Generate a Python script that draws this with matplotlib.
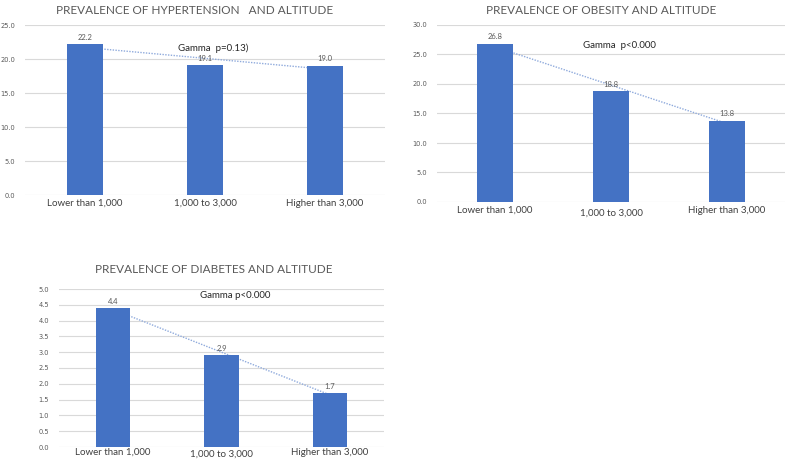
import numpy as np
import matplotlib.pyplot as plt

#******************
#   Data
#******************
categories = ["Lower than 1,000", "1,000 to 3,000", "Higher than 3,000"]
hypertension = [22.2, 19.1, 19.0]
obesity = [26.8, 18.8, 13.8]
diabetes = [4.4, 2.9, 1.7]

titles = ["PREVALENCE OF HYPERTENSION   AND ALTITUDE",
          "PREVALENCE OF OBESITY AND ALTITUDE",
          "PREVALENCE OF DIABETES AND ALTITUDE"]
gamma_notes = ["Gamma  p=0.13)", "Gamma  p<0.000", "Gamma p<0.000"]

#*******************
#   Aesthetics
#*******************
plt.rcParams["font.family"] = ["Lato", "DejaVu Sans"]
bar_col = "#4472C4"
grid_col = "#D9D9D9"
txt_col = "#595959"
trend_col = "#8FAADC"

fig = plt.figure(figsize=(7.87, 4.61), dpi=100)
W, H = 787.0, 461.0

def px_axes(x0, x1, ytop, ybot):
    return fig.add_axes([x0 / W, 1 - ybot / H, (x1 - x0) / W, (ybot - ytop) / H])

panels = [
    # axes, values, ymax, ytick step, bar width, gamma pos, title pos (px), xlabel pad
    (px_axes(25, 385, 25, 195), hypertension, 25, 5.0, 0.30, (1.07, 21.6), (195, 5), 3),
    (px_axes(437, 785, 25, 202), obesity, 30, 5.0, 0.31, (1.07, 26.6), (601, 5), 3),
    (px_axes(59, 384, 289, 447), diabetes, 5, 0.5, 0.315, (1.13, 4.81), (214, 264), 0.5),
]

x = np.arange(len(categories))
for i, (ax, vals, ytop, step, bw, gpos, tpos, xpad) in enumerate(panels):
    ax.bar(x, vals, width=bw, color=bar_col, zorder=3)
    # linear trendline, behind bars
    k, b = np.polyfit(x, vals, 1)
    ax.plot(x, k * x + b, color=trend_col, lw=1.0, ls=(0, (1, 1)), zorder=2)
    for xi, v in zip(x, vals):
        ax.text(xi, v + ytop * 0.02, f"{v:.1f}", ha="center", va="bottom",
                fontsize=5.5, color=txt_col)
    ax.set_xlim(-0.5, 2.5)
    ax.set_ylim(0, ytop)
    ticks = np.arange(0, ytop + step / 2, step)
    ax.set_yticks(ticks)
    ax.set_yticklabels([f"{t:.1f}" for t in ticks], family="DejaVu Sans")
    ax.set_xticks(x)
    ax.set_xticklabels(categories)
    ax.grid(axis="y", color=grid_col, lw=0.8, zorder=0)
    ax.set_axisbelow(True)
    for s in ax.spines.values():
        s.set_visible(False)
    ax.tick_params(axis="y", length=0, labelsize=4.8, labelcolor=txt_col, pad=7)
    ax.tick_params(axis="x", length=0, labelsize=7, labelcolor="#404040", pad=xpad)
    ax.text(gpos[0], gpos[1], gamma_notes[i], ha="center", va="center",
            fontsize=7, color="#262626")
    fig.text(tpos[0] / W, 1 - tpos[1] / H, titles[i], ha="center", va="top",
             fontsize=8.5, color=txt_col)

# middle category label sits a touch lower in the original
for ax in [panels[1][0], panels[2][0]]:
    ax.get_xticklabels()[1].set_y(-0.012)

fig.savefig("out.png", dpi=100, facecolor="white")
